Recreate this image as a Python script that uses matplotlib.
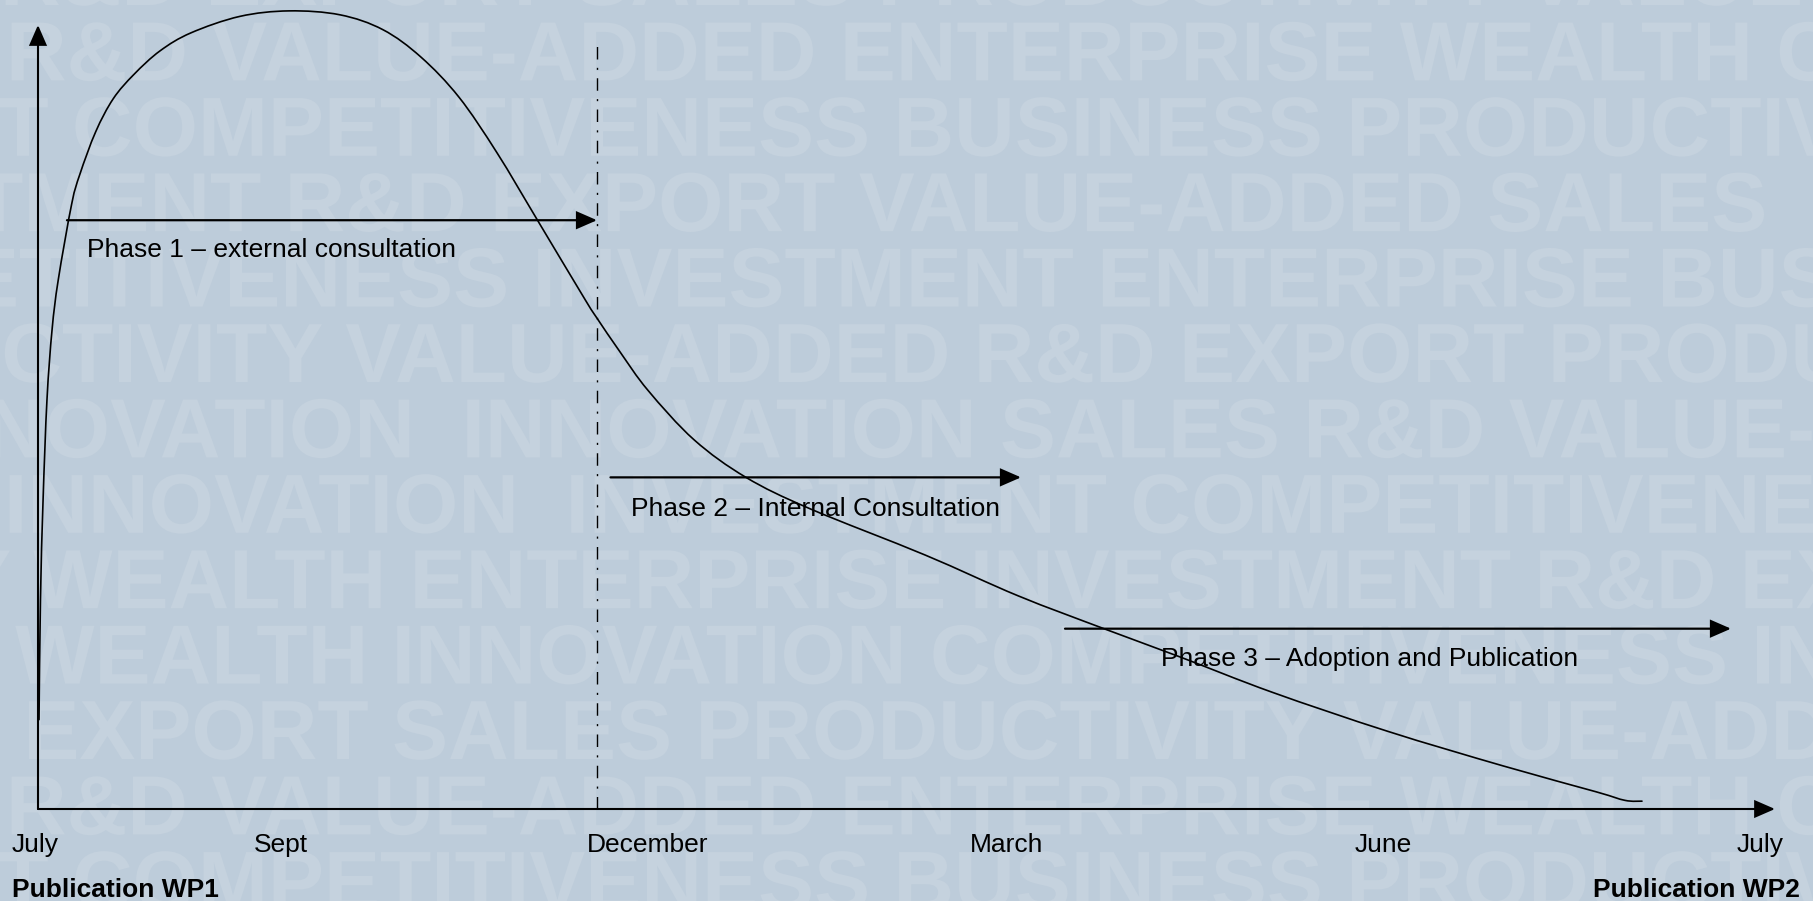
import matplotlib
matplotlib.use("Agg")
import numpy as np
import matplotlib.pyplot as plt
from matplotlib.textpath import TextPath
from matplotlib.font_manager import FontProperties
from matplotlib.patches import PathPatch
from matplotlib.path import Path
from matplotlib.transforms import Affine2D

# ---------------- data (x in months from July, y = activity level) ----------------
curve_x = [0.007, 0.017, 0.035, 0.062, 0.097, 0.140, 0.233, 0.290, 0.399, 0.520,
           0.663, 0.843, 1.057, 1.395, 1.734, 2.086, 2.383, 2.646, 2.908, 3.171,
           3.454, 3.782, 3.862, 4.021, 4.214, 4.532, 4.891, 5.333, 6.128, 6.770,
           7.364, 7.889, 8.525, 9.326, 10.121, 10.763, 10.964, 11.081]
curve_y = [11.4, 26.7, 39.4, 52.2, 61.1, 67.5, 77.2, 81.0, 86.4, 90.6,
           93.7, 96.7, 99.0, 101.1, 101.8, 101.3, 99.4, 95.9, 90.8, 83.7,
           75.0, 64.9, 62.6, 58.3, 53.4, 47.1, 42.3, 38.3, 32.4, 27.2,
           23.0, 19.4, 14.9, 9.9, 5.5, 2.2, 1.1, 1.0]

phase_labels = ["Phase 1 \u2013 external consultation",
                "Phase 2 \u2013 Internal Consultation",
                "Phase 3 \u2013 Adoption and Publication"]
phase_start = [0.200, 3.955, 7.095]
phase_end = [3.862, 6.791, 11.696]
phase_level = [75.1, 42.3, 23.0]
phase_text_x = [0.339, 4.097, 7.758]
phase_text_y = [70.4, 37.4, 18.2]

tick_labels = ["July", "Sept", "December", "March", "June", "July"]
tick_pos = [-0.18, 1.679, 3.793, 6.694, 9.292, 12.062]
tick_ha = ["left", "center", "left", "center", "center", "right"]

pub_labels = ["Publication WP1", "Publication WP2"]
pub_pos = [-0.18, 12.17]
pub_ha = ["left", "right"]

divider_x = 3.862
divider_top = 98.1
x_axis_end = 12.0
y_axis_end = 100.0

watermark_rows = [
    ("R&D EXPORT SALES PRODUCTIVITY VALUE-ADDED ENTERPRISE", 0),
    ("R&D VALUE-ADDED ENTERPRISE WEALTH COMPETITIVENESS", 6),
    ("IT COMPETITIVENESS BUSINESS PRODUCTIVITY", -26),
    ("INVESTMENT R&D EXPORT VALUE-ADDED SALES", -280),
    ("COMPETITIVENESS INVESTMENT ENTERPRISE BUSINESS", -289),
    ("PRODUCTIVITY VALUE-ADDED R&D EXPORT PRODUCTIVITY", -302),
    ("INNOVATION  INNOVATION SALES R&D VALUE-ADDED", -100),
    ("INNOVATION  INVESTMENT COMPETITIVENESS", 4),
    ("PRODUCTIVITY WEALTH ENTERPRISE INVESTMENT R&D EXPORT", -614),
    ("PRODUCTIVITY WEALTH INNOVATION COMPETITIVENESS INVESTMENT", -632),
    ("R&D EXPORT SALES PRODUCTIVITY VALUE-ADDED", -182),
    ("R&D VALUE-ADDED ENTERPRISE WEALTH COMPETITIVENESS", 6),
    ("IT COMPETITIVENESS BUSINESS PRODUCTIVITY", -26),
]

# ---------------- figure ----------------
W, H = 1813, 901
fig = plt.figure(figsize=(W / 100, H / 100), dpi=100)
BG = "#bdccda"
WM = "#c5d2de"
fig.patch.set_facecolor(BG)

# watermark background (pixel coordinates)
bg = fig.add_axes([0, 0, 1, 1], zorder=0)
bg.set_xlim(0, W)
bg.set_ylim(H, 0)
bg.axis("off")
wm_prop = FontProperties(family="Liberation Sans", weight="bold")
wm_size = 84
for i, (txt, x0) in enumerate(watermark_rows):
    base = 5 + 75.4 * i
    tp = TextPath((0, 0), txt, size=wm_size, prop=wm_prop)
    tr = Affine2D().scale(1.0, -1.0).translate(x0, base)
    bg.add_patch(PathPatch(tr.transform_path(tp), facecolor=WM, edgecolor="none"))

# main diagram axes
ax = fig.add_axes([0, 0, 1, 1], zorder=1)
ax.patch.set_alpha(0)
px_per_month = 144.75
px_per_unit = 7.84
ax.set_xlim(-38 / px_per_month, (W - 38) / px_per_month)
ax.set_ylim(-92 / px_per_unit, (H - 92) / px_per_unit)
ax.axis("off")

font = "Liberation Sans"
fs = 19

def arrow(x0, y0, x1, y1, lw=1.5):
    ax.annotate("", xy=(x1, y1), xytext=(x0, y0),
                arrowprops=dict(arrowstyle="-|>,head_length=0.62,head_width=0.27",
                                lw=lw, color="black", mutation_scale=20,
                                shrinkA=0, shrinkB=0, joinstyle="miter"))

# axes arrows
arrow(0, 0, x_axis_end, 0, lw=1.5)
arrow(0, 0, 0, y_axis_end, lw=1.5)

# divider line
ax.plot([divider_x, divider_x], [0, divider_top], color="black", lw=1.0,
        linestyle=(0, (9, 6, 1.5, 6)))

# curve: smooth Bezier path through the read points (Catmull-Rom in pixel space)
pts_data = np.column_stack([curve_x, curve_y])
pts = ax.transData.transform(pts_data)
verts = [pts[0]]
codes = [Path.MOVETO]
n = len(pts)
for i in range(n - 1):
    p0 = pts[max(i - 1, 0)]
    p1 = pts[i]
    p2 = pts[i + 1]
    p3 = pts[min(i + 2, n - 1)]
    c1 = p1 + (p2 - p0) / 6.0
    c2 = p2 - (p3 - p1) / 6.0
    verts += [c1, c2, p2]
    codes += [Path.CURVE4, Path.CURVE4, Path.CURVE4]
verts_data = ax.transData.inverted().transform(np.array(verts))
ax.add_patch(PathPatch(Path(verts_data, codes), facecolor="none",
                       edgecolor="black", lw=1.2, capstyle="round"))

# phase arrows and labels
for lab, xs, xe, lv, tx, ty in zip(phase_labels, phase_start, phase_end,
                                   phase_level, phase_text_x, phase_text_y):
    arrow(xs, lv, xe, lv, lw=1.6)
    ax.text(tx, ty, lab, fontsize=fs, family=font, ha="left", va="baseline",
            color="black")

# tick labels
for lab, p, ha in zip(tick_labels, tick_pos, tick_ha):
    ax.text(p, -5.48, lab, fontsize=fs, family=font, ha=ha, va="baseline",
            color="black")

for lab, p, ha in zip(pub_labels, pub_pos, pub_ha):
    ax.text(p, -11.25, lab, fontsize=fs, family=font, ha=ha, va="baseline",
            fontweight="bold", color="black")

fig.savefig("out.png", dpi=100, facecolor=BG)
